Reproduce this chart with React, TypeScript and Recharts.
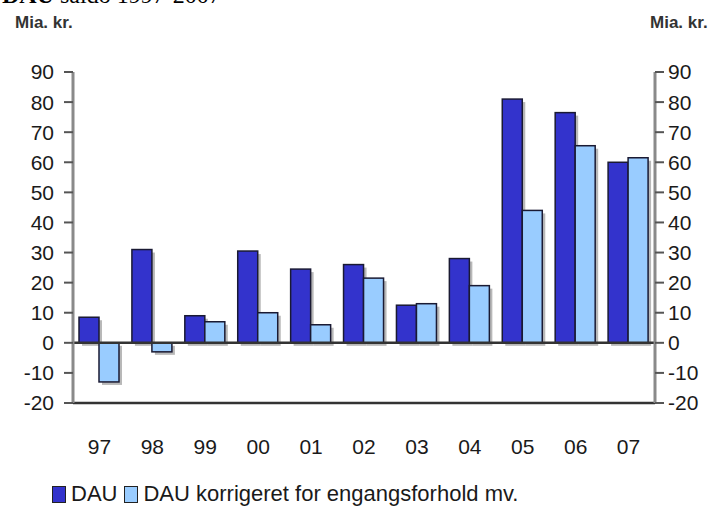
import React from "react";
import { BarChart, Bar, XAxis, YAxis, ReferenceLine } from "recharts";

const years = ["97", "98", "99", "00", "01", "02", "03", "04", "05", "06", "07"];
const dau = [8.5, 31, 9, 30.5, 24.5, 26, 12.5, 28, 81, 76.5, 60];
const dauKorrigeret = [-13, -3, 7, 10, 6, 21.5, 13, 19, 44, 65.5, 61.5];
const yTicks = [-20, -10, 0, 10, 20, 30, 40, 50, 60, 70, 80, 90];

const data = years.map((year, i) => ({
  year,
  dau: dau[i],
  korr: dauKorrigeret[i],
}));

const FONT = "'Liberation Sans', Arial, sans-serif";
const DARK_BLUE = "#3333cc";
const LIGHT_BLUE = "#99ccff";

// bar with a soft grey drop shadow like the original
const ShadowBar = (props: any) => {
  const { x, y, width, height, fill } = props;
  if (width == null || height == null) return null;
  const top = Math.min(y, y + height);
  const h = Math.abs(height);
  return (
    <g>
      <rect x={x + 3} y={top + 3} width={width} height={h} fill="#9a9a9a" opacity={0.7} />
      <rect x={x} y={top} width={width} height={h} fill={fill} stroke="#1a1a33" strokeWidth={1.5} />
    </g>
  );
};

const tickStyle = { fontSize: 21, fill: "#1a1a1a", fontFamily: FONT };

export default function App() {
  return (
    <div style={{ position: "absolute", left: 0, top: 0, width: 722, height: 515, background: "#fff", overflow: "hidden" }}>
      <div
        style={{
          position: "absolute",
          left: 2,
          top: -18,
          fontFamily: "'Liberation Serif', serif",
          fontSize: 24,
          color: "#000",
          whiteSpace: "nowrap",
        }}
      >
        <b>DAU</b> saldo 1997-2007
      </div>
      <div style={{ position: "absolute", left: 15, top: 13, fontFamily: FONT, fontSize: 17, color: "#333", fontWeight: "bold" }}>
        Mia. kr.
      </div>
      <div style={{ position: "absolute", left: 650, top: 13, fontFamily: FONT, fontSize: 17, color: "#333", fontWeight: "bold" }}>
        Mia. kr.
      </div>
      <BarChart
        width={722}
        height={515}
        data={data}
        margin={{ top: 72, right: 0, bottom: 72, left: 0 }}
        barCategoryGap={6}
        barGap={0}
      >
        <XAxis
          dataKey="year"
          tickLine={false}
          tickSize={0}
          tickMargin={36}
          axisLine={{ stroke: "#333", strokeWidth: 2.5 }}
          tick={tickStyle}
          height={40}
          interval={0}
        />
        <YAxis
          yAxisId="left"
          orientation="left"
          width={73}
          domain={[-20, 90]}
          ticks={yTicks}
          interval={0}
          allowDataOverflow
          tickSize={9}
          tickMargin={10}
          axisLine={{ stroke: "#8a8a8a", strokeWidth: 3 }}
          tickLine={{ stroke: "#555", strokeWidth: 2 }}
          tick={tickStyle}
        />
        <YAxis
          yAxisId="right"
          orientation="right"
          width={67}
          domain={[-20, 90]}
          ticks={yTicks}
          interval={0}
          allowDataOverflow
          tickSize={9}
          tickMargin={4}
          axisLine={{ stroke: "#8a8a8a", strokeWidth: 3 }}
          tickLine={{ stroke: "#555", strokeWidth: 2 }}
          tick={tickStyle}
        />
        <ReferenceLine yAxisId="left" y={0} stroke="#333" strokeWidth={2.5} />
        <Bar yAxisId="left" dataKey="dau" fill={DARK_BLUE} shape={ShadowBar} isAnimationActive={false} />
        <Bar yAxisId="right" dataKey="korr" fill={LIGHT_BLUE} shape={ShadowBar} isAnimationActive={false} />
      </BarChart>
      <div
        style={{
          position: "absolute",
          left: 52,
          top: 481,
          fontFamily: FONT,
          fontSize: 22,
          color: "#1a1a1a",
          display: "flex",
          alignItems: "center",
          whiteSpace: "nowrap",
        }}
      >
        <span style={{ display: "inline-block", width: 12, height: 15, background: DARK_BLUE, border: "1px solid #222", marginRight: 5 }} />
        <span style={{ marginRight: 7 }}>DAU</span>
        <span style={{ display: "inline-block", width: 12, height: 15, background: LIGHT_BLUE, border: "1px solid #222", marginRight: 5 }} />
        <span>DAU korrigeret for engangsforhold mv.</span>
      </div>
    </div>
  );
}
